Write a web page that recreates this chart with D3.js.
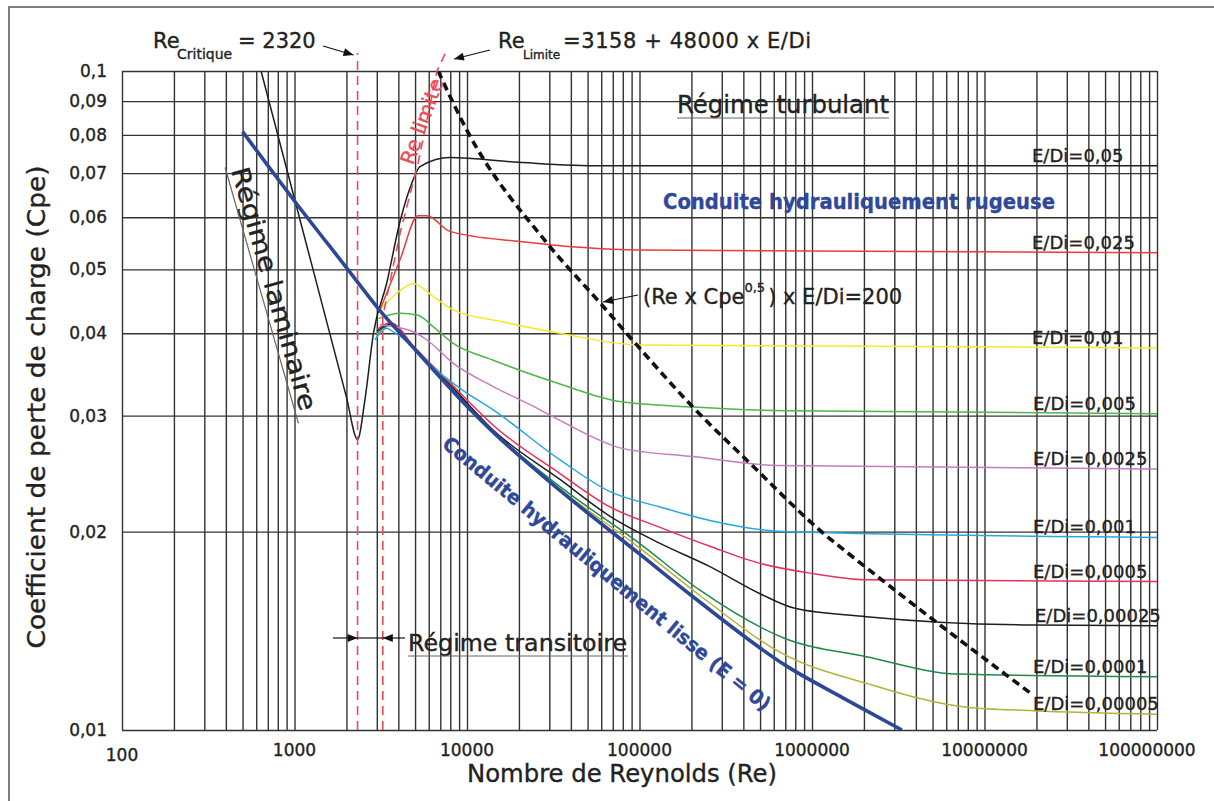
<!DOCTYPE html>
<html>
<head>
<meta charset="utf-8">
<script src="https://cdn.jsdelivr.net/npm/d3@7"></script>
<style>
  body { margin: 0; background: #fff; }
  svg { display: block; }
  text { font-family: "DejaVu Sans", sans-serif; fill: #222; stroke: #222; stroke-width: 0.35px; }
</style>
</head>
<body>
<script>
var W = 1214, H = 801;

// axes
var reLabelTicks = [100, 1000, 10000, 100000, 1000000, 10000000, 100000000];
var reLabels = ["100", "1000", "10000", "100000", "1000000", "10000000", "100000000"];
var cpeTicks = [0.01, 0.02, 0.03, 0.04, 0.05, 0.06, 0.07, 0.08, 0.09, 0.1];
var cpeLabels = ["0,01", "0,02", "0,03", "0,04", "0,05", "0,06", "0,07", "0,08", "0,09", "0,1"];

// [Re, Cpe]
var lisse = [[500, 0.0809], [1000, 0.0635], [2000, 0.0503], [3060, 0.0436], [5000, 0.0378],
  [10000, 0.0310], [13600, 0.0286], [34600, 0.0231], [100000, 0.0185], [200000, 0.0160],
  [713000, 0.0125], [1500000, 0.0112], [3320000, 0.0100]];
var eDi_05 = [[640, 0.1], [1000, 0.064], [2000, 0.032], [2320, 0.0276], [2560, 0.0317], [2870, 0.040],
  [3420, 0.0476], [4090, 0.0591], [4780, 0.0675], [5340, 0.0716], [7960, 0.0739], [20000, 0.0727],
  [60000, 0.0718], [100000000, 0.0718]];
var eDi_025 = [[3130, 0.0434], [4090, 0.0517], [5200, 0.0603], [5860, 0.0603], [7960, 0.0571],
  [20300, 0.0551], [100000, 0.0535], [100000000, 0.0530]];
var eDi_01 = [[3130, 0.0434], [3910, 0.0460], [4880, 0.0476], [6360, 0.0455], [8330, 0.0434],
  [15500, 0.0417], [34600, 0.0400], [100000, 0.0384], [100000000, 0.0380]];
var eDi_005 = [[3060, 0.0421], [4090, 0.0429], [5200, 0.0426], [6380, 0.0409], [8330, 0.0386],
  [14200, 0.0364], [34600, 0.0335], [77100, 0.0315], [205000, 0.0309], [700000, 0.0305], [100000000, 0.0302]];
var eDi_0025 = [[3130, 0.0412], [4880, 0.0402], [5840, 0.0391], [8330, 0.0360], [14200, 0.0332],
  [25400, 0.0308], [34600, 0.0295], [54000, 0.0278], [77100, 0.0268], [205000, 0.0260],
  [624000, 0.0252], [100000000, 0.0249]];
var eDi_001 = [[2930, 0.0391], [3420, 0.0407], [3740, 0.0402], [4880, 0.0382], [6380, 0.0355],
  [9100, 0.0330], [14200, 0.0306], [34600, 0.0257], [67500, 0.0230], [131500, 0.0218],
  [256000, 0.0208], [679000, 0.0200], [100000000, 0.0196]];
var eDi_0005 = [[3000, 0.0405], [3600, 0.0415], [5000, 0.0380], [8000, 0.0336], [14860, 0.0287],
  [34600, 0.0245], [67500, 0.0218], [131500, 0.0203], [256000, 0.0190], [500000, 0.0179],
  [973000, 0.0173], [2070000, 0.0169], [100000000, 0.0168]];
var eDi_00025 = [[3000, 0.0403], [3600, 0.0413], [5000, 0.0379], [8000, 0.0334], [14200, 0.0285],
  [34600, 0.0240], [67500, 0.0211], [131500, 0.0192], [256000, 0.0177], [500000, 0.0161],
  [796000, 0.0153], [2070000, 0.01486], [19100000, 0.01443], [100000000, 0.0144]];
var eDi_0001 = [[3000, 0.0401], [3600, 0.0412], [5000, 0.0378], [8000, 0.0333], [14200, 0.0284],
  [34600, 0.0234], [100000, 0.0192], [224000, 0.0163], [697000, 0.01377], [2070000, 0.01292],
  [6900000, 0.01216], [100000000, 0.01205]];
var eDi_00005 = [[3000, 0.0399], [3600, 0.0411], [5000, 0.0377], [8000, 0.0332], [14200, 0.0283],
  [34600, 0.0232], [100000, 0.0189], [224000, 0.0160], [697000, 0.0130], [2070000, 0.01177],
  [7900000, 0.01083], [19100000, 0.0107], [100000000, 0.01057]];
var limite200 = [[6800, 0.1], [9960, 0.0814], [28950, 0.0549], [59000, 0.0445], [96400, 0.0384],
  [204000, 0.0309], [437000, 0.0254], [1160000, 0.0199], [1820000, 0.0181], [19100000, 0.0113]];
var reCritique = [[2320, 0.01], [2320, 0.1065]];
var reLimite = [[3250, 0.01], [3250, 0.0424], [4090, 0.0567], [5200, 0.0724], [6700, 0.1], [7550, 0.1069]];

var series = [
  { data: eDi_05, label: "E/Di=0,05", color: "#1e1e1e", dx: 1032 },
  { data: eDi_025, label: "E/Di=0,025", color: "#ec3b3b", dx: 1032 },
  { data: eDi_01, label: "E/Di=0,01", color: "#f3ea2a", dx: 1032 },
  { data: eDi_005, label: "E/Di=0,005", color: "#4cb848", dx: 1033 },
  { data: eDi_0025, label: "E/Di=0,0025", color: "#c57cc0", dx: 1033 },
  { data: eDi_001, label: "E/Di=0,001", color: "#27a6e2", dx: 1033 },
  { data: eDi_0005, label: "E/Di=0,0005", color: "#ea2f58", dx: 1033 },
  { data: eDi_00025, label: "E/Di=0,00025", color: "#1e1e1e", dx: 1035 },
  { data: eDi_0001, label: "E/Di=0,0001", color: "#1e8a4a", dx: 1033 },
  { data: eDi_00005, label: "E/Di=0,00005", color: "#b3b436", dx: 1033 }
];

var x = d3.scaleLog().domain([100, 1e8]).range([122, 1157]);
var y = d3.scaleLog().domain([0.01, 0.1]).range([730, 71]);

var svg = d3.select("body").append("svg").attr("width", W).attr("height", H);

svg.append("path").attr("d", "M9,801V7H1214").attr("fill", "none")
  .attr("stroke", "#555").attr("stroke-width", 1.5);

var defs = svg.append("defs");
defs.append("clipPath").attr("id", "plot").append("rect")
  .attr("x", 122).attr("y", 71).attr("width", 1035).attr("height", 659);
defs.append("marker").attr("id", "arr").attr("viewBox", "0 0 10 8")
  .attr("refX", 10).attr("refY", 4).attr("markerWidth", 11).attr("markerHeight", 8)
  .attr("markerUnits", "userSpaceOnUse").attr("orient", "auto")
  .append("path").attr("d", "M0,0L10,4L0,8z").attr("fill", "#111");

// grid
var gridRe = [];
for (var e = 2; e < 8; e++) for (var k = 1; k < 10; k++) gridRe.push(k * Math.pow(10, e));
gridRe.push(1e8);

var gx = svg.append("g").attr("transform", "translate(0,730)")
  .call(d3.axisBottom(x).tickValues(gridRe).tickSize(-659).tickFormat(""));
var gy = svg.append("g").attr("transform", "translate(122,0)")
  .call(d3.axisLeft(y).tickValues(cpeTicks).tickSize(-1035).tickFormat(""));
[gx, gy].forEach(function (g) {
  g.select(".domain").remove();
  g.selectAll("line").attr("stroke", "#333").attr("stroke-width", 1.4);
});

svg.selectAll(".xl").data(reLabelTicks).enter().append("text")
  .attr("x", function (d, i) { return i == 6 ? x(d) - 10 : x(d); })
  .attr("y", function (d, i) { return i == 0 ? 761 : 756; })
  .attr("text-anchor", "middle").attr("font-size", 17)
  .text(function (d, i) { return reLabels[i]; });

svg.selectAll(".yl").data(cpeTicks).enter().append("text")
  .attr("x", 107).attr("y", function (d) { return y(d) + 6; })
  .attr("text-anchor", "end").attr("font-size", 17)
  .text(function (d, i) { return cpeLabels[i]; });

var line = d3.line().x(function (d) { return x(d[0]); }).y(function (d) { return y(d[1]); });
var smooth = d3.line().x(function (d) { return x(d[0]); }).y(function (d) { return y(d[1]); })
  .curve(d3.curveMonotoneX);

var curves = svg.append("g").attr("clip-path", "url(#plot)");
series.slice().reverse().forEach(function (s) {
  curves.append("path").attr("d", smooth(s.data)).attr("fill", "none")
    .attr("stroke", s.color).attr("stroke-width", 1.5);
});
curves.append("path").attr("d", smooth(lisse)).attr("fill", "none")
  .attr("stroke", "#2d4797").attr("stroke-width", 3.6);
curves.append("path").attr("d", smooth(limite200)).attr("fill", "none")
  .attr("stroke", "#111").attr("stroke-width", 3.6).attr("stroke-dasharray", "8,5");

// dashed limits, drawn past the top of the plot
[reCritique, reLimite].forEach(function (d) {
  svg.append("path").attr("d", line(d)).attr("fill", "none")
    .attr("stroke", "#ee4a55").attr("stroke-width", 1.6).attr("stroke-dasharray", "9,6");
});

// E/Di labels
series.forEach(function (s) {
  var last = s.data[s.data.length - 1];
  svg.append("text").attr("x", s.dx).attr("y", y(last[1]) - 4)
    .attr("font-size", 18).text(s.label);
});

// titles
svg.append("text").attr("x", 622).attr("y", 782).attr("text-anchor", "middle")
  .attr("font-size", 24).attr("textLength", 310).attr("lengthAdjust", "spacingAndGlyphs")
  .text("Nombre de Reynolds (Re)");
svg.append("text").attr("transform", "translate(45,407) rotate(-90)").attr("text-anchor", "middle")
  .attr("font-size", 24).attr("textLength", 483).attr("lengthAdjust", "spacingAndGlyphs")
  .text("Coefficient de perte de charge (Cpe)");

// Re critique
svg.append("text").attr("x", 153).attr("y", 48).attr("font-size", 21).text("Re");
svg.append("text").attr("x", 177).attr("y", 59).attr("font-size", 14).text("Critique");
svg.append("text").attr("x", 238).attr("y", 48).attr("font-size", 21).text("= 2320");
svg.append("line").attr("x1", 323).attr("y1", 46).attr("x2", x(2320) - 4).attr("y2", 55)
  .attr("stroke", "#111").attr("stroke-width", 1.2).attr("marker-end", "url(#arr)");

// Re limite
svg.append("text").attr("x", 498).attr("y", 48).attr("font-size", 21).text("Re");
svg.append("text").attr("x", 523).attr("y", 59).attr("font-size", 12).text("Limite");
svg.append("text").attr("x", 563).attr("y", 48).attr("font-size", 21)
  .attr("textLength", 248).attr("lengthAdjust", "spacing").text("=3158 + 48000 x E/Di");
svg.append("line").attr("x1", 490).attr("y1", 50).attr("x2", 454).attr("y2", 59)
  .attr("stroke", "#111").attr("stroke-width", 1.2).attr("marker-end", "url(#arr)");

// regime labels
svg.append("text").attr("x", 677).attr("y", 113).attr("font-size", 24)
  .attr("textLength", 212).attr("lengthAdjust", "spacingAndGlyphs").text("Régime turbulant");
svg.append("line").attr("x1", 677).attr("x2", 889).attr("y1", 118).attr("y2", 118)
  .attr("stroke", "#666").attr("stroke-width", 1.2);

svg.append("text").attr("x", 408).attr("y", 651).attr("font-size", 23)
  .attr("textLength", 219).attr("lengthAdjust", "spacingAndGlyphs").text("Régime transitoire");
svg.append("line").attr("x1", 408).attr("x2", 628).attr("y1", 656).attr("y2", 656)
  .attr("stroke", "#666").attr("stroke-width", 1.2);
var ya = 638;
svg.append("line").attr("x1", 333).attr("x2", x(2320)).attr("y1", ya).attr("y2", ya)
  .attr("stroke", "#111").attr("stroke-width", 1.2).attr("marker-end", "url(#arr)");
svg.append("line").attr("x1", 405).attr("x2", x(3250)).attr("y1", ya).attr("y2", ya)
  .attr("stroke", "#111").attr("stroke-width", 1.2).attr("marker-end", "url(#arr)");
svg.append("line").attr("x1", x(2320)).attr("x2", x(3250)).attr("y1", ya).attr("y2", ya)
  .attr("stroke", "#111").attr("stroke-width", 1.2);

var lam = svg.append("g").attr("transform", "translate(231,170) rotate(74)");
lam.append("text").attr("font-size", 25).attr("textLength", 252)
  .attr("lengthAdjust", "spacingAndGlyphs").text("Régime laminaire");
lam.append("line").attr("x1", -4).attr("x2", 262).attr("y1", 5).attr("y2", 5)
  .attr("stroke", "#666").attr("stroke-width", 1.2);

svg.append("text").attr("transform", "translate(413,166) rotate(-70)")
  .attr("font-size", 20).attr("textLength", 90).attr("lengthAdjust", "spacingAndGlyphs")
  .style("fill", "#ee4a55").style("stroke", "#ee4a55").text("Re limite");

svg.append("text").attr("x", 663).attr("y", 209).attr("font-size", 21).attr("font-weight", "bold")
  .attr("textLength", 392).attr("lengthAdjust", "spacingAndGlyphs")
  .style("fill", "#2f489a").style("stroke", "#2f489a")
  .text("Conduite hydrauliquement rugeuse");

svg.append("text").attr("transform", "translate(441,446) rotate(39.5)")
  .attr("font-size", 20).attr("font-weight", "bold")
  .attr("textLength", 418).attr("lengthAdjust", "spacingAndGlyphs")
  .style("fill", "#2f489a").style("stroke", "#2f489a")
  .text("Conduite hydrauliquement lisse (E = 0)");

// (Re x Cpe^0,5) x E/Di = 200
var lab = svg.append("text").attr("x", 643).attr("y", 304).attr("font-size", 21);
lab.append("tspan").text("(Re x Cpe");
lab.append("tspan").attr("font-size", 13).attr("dy", -12).text("0,5");
lab.append("tspan").attr("dy", 12).attr("dx", 3).text(") x E/Di=200");
svg.append("line").attr("x1", 638).attr("y1", 295).attr("x2", 603).attr("y2", 302)
  .attr("stroke", "#111").attr("stroke-width", 1.2).attr("marker-end", "url(#arr)");
</script>
</body>
</html>
